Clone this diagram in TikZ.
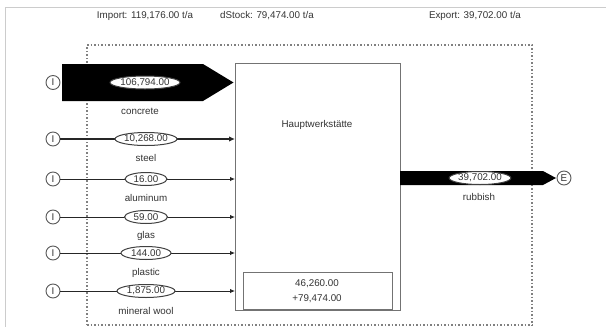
\documentclass[tikz,border=0pt]{standalone}
\usepackage{fontspec}
\setmainfont{Liberation Sans}
\usetikzlibrary{arrows.meta,shapes.geometric}
\begin{document}
\begin{tikzpicture}[x=1pt,y=-1pt,
  txt/.style={font=\fontsize{9.8}{11}\selectfont, text=black!80, inner sep=0},
  endpt/.style={circle, draw=black!65, line width=0.9pt, fill=white, minimum size=14pt, inner sep=0, font=\fontsize{9.8}{11}\selectfont, text=black!80},
  val/.style={ellipse, draw=black!75, line width=1pt, fill=white, minimum height=13pt, inner sep=0, font=\fontsize{9.8}{11}\selectfont, text=black!80},
  flow/.style={draw=black!85, line width=0.9pt, -{Latex[length=5pt,width=4.5pt]}},
  boundary/.style={draw=black!50, line width=1.1pt, dash pattern=on 1.5pt off 2pt},
  procbox/.style={draw=black!55, line width=1.2pt, fill=white},
  fat/.style={fill=black}
]
\useasboundingbox (0,0) rectangle (606,327);
% outer frame
\draw[black!20, line width=0.8pt] (606,7) -- (5,7) -- (5,327);
% header
\node[txt] (imp) at (145,16) {Import: 119,176.00 t/a};
\node[txt, anchor=west] (dst) at (220,16) {dStock: 79,474.00 t/a};
\node[txt] (exp) at (475,16) {Export: 39,702.00 t/a};
% system boundary
\draw[boundary] (87,325) -- (87,45) -- (532,45) -- (532,325);
\draw[boundary] (87,325) -- (532,325);
% process box
\node[procbox, minimum width=165pt, minimum height=247pt, anchor=north west, inner sep=0] (box) at (235,63) {};
\node[txt] (name) at (317,125) {Hauptwerkstätte};
\node[draw=black!55, line width=1pt, fill=white, anchor=south west, minimum width=149pt, minimum height=37pt, inner sep=0] (stock) at (243,310) {};
\node[txt, align=center, font=\fontsize{9.8}{15}\selectfont] (stocktxt) at (317,291) {46,260.00\\+79,474.00};
% concrete
\coordinate (c0) at (62,64);
\coordinate (c1) at (203,64);
\coordinate (ctip) at (233.5,82.5);
\coordinate (c2) at (203,101);
\coordinate (c3) at (62,101);
\fill[fat] (c0) -- (c1) -- (ctip) -- (c2) -- (c3) -- cycle;
\node[endpt] (i1) at (53,82.5) {I};
\node[val, minimum width=70pt] (v1) at (145,82.5) {106,794.00};
\node[txt] (l1) at (140,111) {concrete};
% thin flows
\node[endpt] (i2) at (53,139) {I};
\draw[flow, line width=1.8pt, -{Latex[length=6pt,width=5.5pt]}] (i2) -- (i2 -| box.west);
\node[val, minimum width=62pt] (v2) at (146,139) {10,268.00};
\node[txt] (l2) at (146,158) {steel};

\node[endpt] (i3) at (53,179) {I};
\draw[flow] (i3) -- (i3 -| box.west);
\node[val, minimum width=42pt] (v3) at (146,179) {16.00};
\node[txt] (l3) at (146,198) {aluminum};

\node[endpt] (i4) at (53,217) {I};
\draw[flow] (i4) -- (i4 -| box.west);
\node[val, minimum width=43pt] (v4) at (146,217) {59.00};
\node[txt] (l4) at (146,236) {glas};

\node[endpt] (i5) at (53,253) {I};
\draw[flow] (i5) -- (i5 -| box.west);
\node[val, minimum width=50pt] (v5) at (146,253) {144.00};
\node[txt] (l5) at (146,273) {plastic};

\node[endpt] (i6) at (53,291) {I};
\draw[flow] (i6) -- (i6 -| box.west);
\node[val, minimum width=58pt] (v6) at (146,291) {1,875.00};
\node[txt] (l6) at (146,311) {mineral wool};
% rubbish
\coordinate (r0) at (400,171);
\coordinate (r1) at (543,171);
\coordinate (rtip) at (556,178);
\coordinate (r2) at (543,185);
\coordinate (r3) at (400,185);
\fill[fat] (r0) -- (r1) -- (rtip) -- (r2) -- (r3) -- cycle;
\node[endpt] (e1) at (564,178) {E};
\node[val, minimum width=60pt] (v7) at (480,178) {39,702.00};
\node[txt] (l7) at (479,197) {rubbish};
\end{tikzpicture}
\end{document}
